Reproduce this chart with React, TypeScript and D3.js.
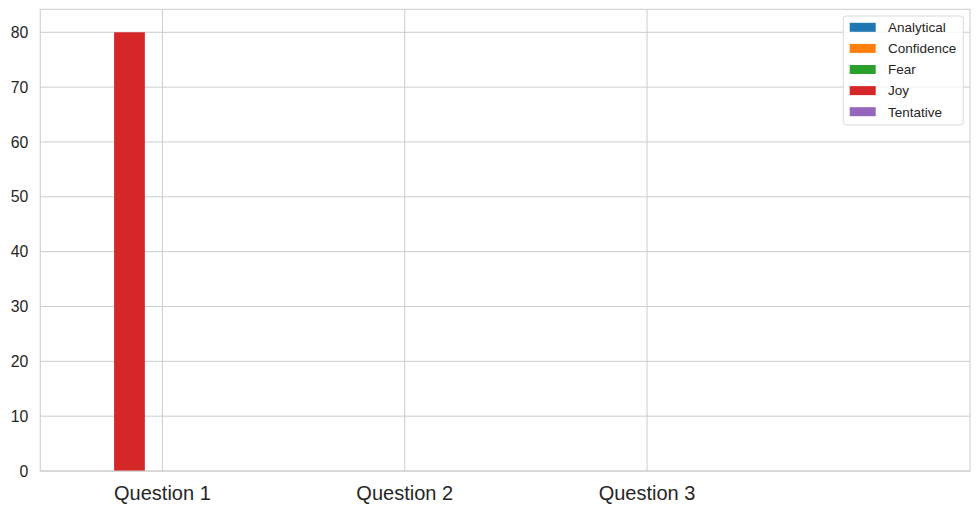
import { useEffect, useRef } from 'react';
import * as d3 from 'd3';

const categories = ['Question 1', 'Question 2', 'Question 3'];
const seriesNames = ['Analytical', 'Confidence', 'Fear', 'Joy', 'Tentative'];
const seriesColors = ['#1f77b4', '#ff7f0e', '#2ca02c', '#d62728', '#9467bd'];
const analytical = [0, 0, 0];
const confidence = [0, 0, 0];
const fear = [0, 0, 0];
const joy = [80, 0, 0];
const tentative = [0, 0, 0];
const yTicks = [0, 10, 20, 30, 40, 50, 60, 70, 80];

const seriesValues = [analytical, confidence, fear, joy, tentative];

export default function App() {
  const ref = useRef<SVGSVGElement>(null);
  const width = 980;
  const height = 512;

  useEffect(() => {
    if (!ref.current) return;
    const svg = d3.select(ref.current);
    svg.selectAll('*').remove();

    const margin = { top: 9.3, right: 10, bottom: 41, left: 40.3 };
    const innerW = width - margin.left - margin.right;
    const innerH = height - margin.top - margin.bottom;

    const g = svg.append('g').attr('transform', `translate(${margin.left},${margin.top})`);

    const x = d3.scaleLinear().domain([-0.504, 3.333]).range([0, innerW]);
    const y = d3.scaleLinear().domain([0, 84.19]).range([innerH, 0]);
    const barW = 0.127;
    const offset = (i: number) => -0.136 + (i - 3) * barW;

    // grid
    g.selectAll('line.hgrid')
      .data(yTicks)
      .enter()
      .append('line')
      .attr('x1', 0)
      .attr('x2', innerW)
      .attr('y1', (d) => y(d))
      .attr('y2', (d) => y(d))
      .attr('stroke', '#cccccc')
      .attr('stroke-width', 1);

    g.selectAll('line.vgrid')
      .data(categories)
      .enter()
      .append('line')
      .attr('x1', (_, i) => x(i))
      .attr('x2', (_, i) => x(i))
      .attr('y1', 0)
      .attr('y2', innerH)
      .attr('stroke', '#cccccc')
      .attr('stroke-width', 1);

    // bars
    seriesValues.forEach((vals, si) => {
      g.selectAll(`rect.s${si}`)
        .data(vals)
        .enter()
        .append('rect')
        .attr('x', (_, i) => x(i + offset(si) - barW / 2))
        .attr('width', x(barW) - x(0))
        .attr('y', (d) => y(d))
        .attr('height', (d) => innerH - y(d))
        .attr('fill', seriesColors[si]);
    });

    // frame
    g.append('rect')
      .attr('x', 0)
      .attr('y', 0)
      .attr('width', innerW)
      .attr('height', innerH)
      .attr('fill', 'none')
      .attr('stroke', '#cccccc')
      .attr('stroke-width', 1);

    // y tick labels
    g.selectAll('text.ytick')
      .data(yTicks)
      .enter()
      .append('text')
      .attr('x', -12)
      .attr('y', (d) => y(d))
      .attr('dy', '0.36em')
      .attr('text-anchor', 'end')
      .attr('font-family', '"Liberation Sans", Arial, sans-serif')
      .attr('font-size', 15.8)
      .attr('fill', '#262626')
      .text((d) => d);

    // x tick labels
    g.selectAll('text.xtick')
      .data(categories)
      .enter()
      .append('text')
      .attr('x', (_, i) => x(i))
      .attr('y', innerH + 29)
      .attr('text-anchor', 'middle')
      .attr('font-family', '"Liberation Sans", Arial, sans-serif')
      .attr('font-size', 20)
      .attr('fill', '#262626')
      .text((d) => d);

    // legend
    const lg = svg.append('g').attr('transform', 'translate(843.3,16)');
    lg.append('rect')
      .attr('width', 120)
      .attr('height', 109)
      .attr('rx', 3)
      .attr('fill', 'white')
      .attr('fill-opacity', 0.8)
      .attr('stroke', '#d9d9d9');
    seriesNames.forEach((name, i) => {
      const cy = 11.3 + i * 21.1;
      lg.append('rect')
        .attr('x', 6.4)
        .attr('y', cy - 4.5)
        .attr('width', 26)
        .attr('height', 9)
        .attr('fill', seriesColors[i]);
      lg.append('text')
        .attr('x', 44.7)
        .attr('y', cy)
        .attr('dy', '0.36em')
        .attr('font-family', '"Liberation Sans", Arial, sans-serif')
        .attr('font-size', 13.5)
        .attr('fill', '#262626')
        .text(name);
    });
  }, []);

  return (
    <svg
      ref={ref}
      width={width}
      height={height}
      style={{ position: 'absolute', left: 0, top: 0, background: 'white' }}
    />
  );
}
